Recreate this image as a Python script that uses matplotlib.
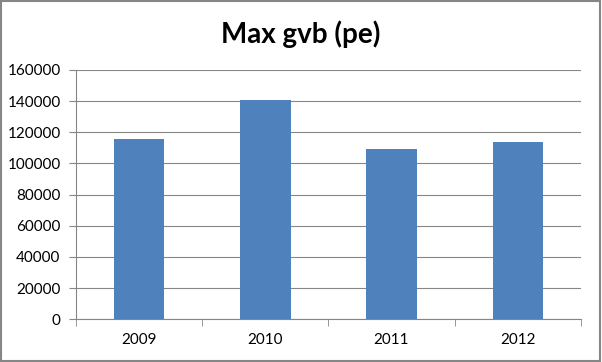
import matplotlib
matplotlib.use("Agg")
import matplotlib.pyplot as plt
from matplotlib.patches import Rectangle

categories = ["2009", "2010", "2011", "2012"]
values = [115800, 140800, 109400, 113900]
yticks = [0, 20000, 40000, 60000, 80000, 100000, 120000, 140000, 160000]

plt.rcParams['font.family'] = ['Lato', 'DejaVu Sans']

fig = plt.figure(figsize=(6.02, 3.62), dpi=100)
ax = fig.add_axes([0.126, 0.118, 0.839, 0.689])

x = list(range(len(categories)))
ax.bar(x, values, width=0.4, color="#4F81BD", zorder=3)
ax.set_xlim(-0.5, len(categories) - 0.5)
ax.set_ylim(0, 160000)
ax.set_yticks(yticks)
ax.set_yticklabels([str(v) for v in yticks], fontsize=11)
ax.set_xticks(x)
ax.set_xticklabels(categories, fontsize=11)
ax.tick_params(axis='x', length=0, pad=10)
ax.set_xticks([i - 0.5 for i in range(len(categories) + 1)], minor=True)
ax.tick_params(axis='x', which='minor', length=5, color="#868686", direction='out')
ax.tick_params(axis='y', length=5, color="#868686", direction='out', pad=6)
ax.grid(axis='y', color="#868686", linewidth=0.8, zorder=0)
for s in ['top', 'right']:
    ax.spines[s].set_visible(False)
for s in ['left', 'bottom']:
    ax.spines[s].set_color("#868686")
    ax.spines[s].set_linewidth(0.8)

fig.text(0.5, 0.905, "Max gvb (pe)", ha='center', va='center', fontsize=20, fontweight='bold')
fig.patches.append(Rectangle((0.002, 0.003), 0.995, 0.994, transform=fig.transFigure,
                             fill=False, edgecolor="#868686", linewidth=1.5))
fig.savefig("out.png", dpi=100)
